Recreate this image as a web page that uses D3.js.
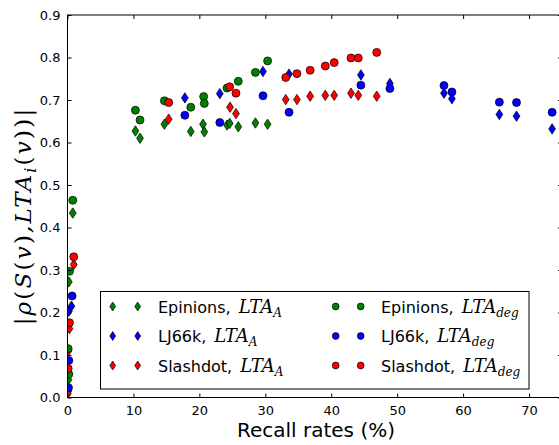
<!DOCTYPE html>
<html>
<head>
<meta charset="utf-8">
<script src="https://cdn.jsdelivr.net/npm/d3@7"></script>
<style>
  html, body { margin: 0; padding: 0; background: #fff; }
  svg { display: block; }
</style>
</head>
<body>
<svg id="chart" width="559" height="445"></svg>
<script>
// Recall rate (%) and |rho| for each dataset / LTA variant
const epinionsA_x = [0.15, 0.2, 0.8, 10.3, 11.0, 14.7, 18.7, 20.55, 20.75, 24.2, 24.6, 25.9, 28.5, 30.35];
const epinionsA_y = [0.042, 0.272, 0.434, 0.627, 0.610, 0.643, 0.626, 0.643, 0.625, 0.641, 0.645, 0.637, 0.646, 0.643];

const lj66kA_x = [0.1, 0.2, 0.6, 17.8, 23.1, 29.65, 33.6, 44.5, 48.9, 57.1, 58.3, 65.5, 68.1, 73.5];
const lj66kA_y = [0.015, 0.203, 0.215, 0.705, 0.715, 0.767, 0.761, 0.759, 0.739, 0.716, 0.703, 0.666, 0.662, 0.632];

const slashdotA_x = [0.05, 0.15, 0.3, 0.95, 15.35, 24.65, 25.55, 33.1, 34.8, 36.8, 39.1, 40.45, 43.0, 44.1, 46.9];
const slashdotA_y = [0.009, 0.110, 0.162, 0.313, 0.655, 0.683, 0.668, 0.701, 0.701, 0.709, 0.711, 0.711, 0.716, 0.711, 0.709];

const epinionsDeg_x = [0.2, 0.1, 0.3, 0.8, 10.3, 11.0, 14.7, 18.7, 20.65, 20.75, 24.2, 25.9, 28.5, 30.35];
const epinionsDeg_y = [0.055, 0.115, 0.297, 0.464, 0.676, 0.653, 0.698, 0.683, 0.708, 0.692, 0.728, 0.744, 0.765, 0.792];

const lj66kDeg_x = [0.15, 0.2, 0.7, 17.8, 23.1, 29.65, 33.6, 44.5, 48.9, 57.1, 58.3, 65.5, 68.1, 73.5];
const lj66kDeg_y = [0.023, 0.087, 0.239, 0.664, 0.647, 0.710, 0.671, 0.735, 0.727, 0.734, 0.719, 0.695, 0.694, 0.671];

const slashdotDeg_x = [0.1, 0.3, 0.95, 15.35, 24.6, 25.55, 33.1, 34.8, 36.8, 39.1, 40.45, 43.0, 44.1, 46.9];
const slashdotDeg_y = [0.068, 0.176, 0.331, 0.694, 0.731, 0.716, 0.753, 0.762, 0.770, 0.780, 0.788, 0.799, 0.799, 0.812];

const xTicks = [0, 10, 20, 30, 40, 50, 60, 70];
const yTicks = [0.0, 0.1, 0.2, 0.3, 0.4, 0.5, 0.6, 0.7, 0.8, 0.9];

const datasetNames = ["Epinions", "LJ66k", "Slashdot"];
const seriesColors = ["#008000", "#0000ff", "#ff0000"];

const series = [
  { name: datasetNames[0], sub: "A", shape: "diamond", color: seriesColors[0], xs: epinionsA_x, ys: epinionsA_y },
  { name: datasetNames[1], sub: "A", shape: "diamond", color: seriesColors[1], xs: lj66kA_x, ys: lj66kA_y },
  { name: datasetNames[2], sub: "A", shape: "diamond", color: seriesColors[2], xs: slashdotA_x, ys: slashdotA_y },
  { name: datasetNames[0], sub: "deg", shape: "circle", color: seriesColors[0], xs: epinionsDeg_x, ys: epinionsDeg_y },
  { name: datasetNames[1], sub: "deg", shape: "circle", color: seriesColors[1], xs: lj66kDeg_x, ys: lj66kDeg_y },
  { name: datasetNames[2], sub: "deg", shape: "circle", color: seriesColors[2], xs: slashdotDeg_x, ys: slashdotDeg_y }
];

const svg = d3.select("#chart");
const plotLeft = 67.5, plotRight = 562, plotTop = 15, plotBottom = 397.5;

const x = d3.scaleLinear().domain([0, 75]).range([plotLeft, plotRight]);
const y = d3.scaleLinear().domain([0, 0.9]).range([plotBottom, plotTop]);

const tickFont = "'DejaVu Sans', sans-serif";
const mathFont = "'DejaVu Serif', 'Liberation Serif', serif";

// clip region for the markers
svg.append("defs").append("clipPath").attr("id", "plotClip")
  .append("rect").attr("x", plotLeft).attr("y", plotTop)
  .attr("width", plotRight - plotLeft).attr("height", plotBottom - plotTop);

// marker path builders
const diamondPath = (hw, hh) => `M0,${-hh}L${hw},0L0,${hh}L${-hw},0Z`;

function drawMarker(g, shape, color, cx, cy, scale) {
  const s = scale || 1;
  if (shape === "circle") {
    g.append("circle").attr("cx", cx).attr("cy", cy).attr("r", 4 * s)
      .attr("fill", color).attr("stroke", "#000").attr("stroke-width", 0.7);
  } else {
    g.append("path").attr("d", diamondPath(3.4 * s, 5.2 * s))
      .attr("transform", `translate(${cx},${cy})`)
      .attr("fill", color).attr("stroke", "#000").attr("stroke-width", 0.7);
  }
}

// data markers
const plot = svg.append("g").attr("clip-path", "url(#plotClip)");
series.forEach(sr => {
  const g = plot.append("g");
  sr.xs.forEach((xv, i) => drawMarker(g, sr.shape, sr.color, x(xv), y(sr.ys[i])));
});

// axes: ticks pointing inward on all four sides
const axisBottom = d3.axisBottom(x).tickValues(xTicks).tickSizeInner(-4).tickSizeOuter(0).tickPadding(8).tickFormat(d3.format("d"));
const axisTop = d3.axisTop(x).tickValues(xTicks).tickSizeInner(-4).tickSizeOuter(0).tickFormat("");
const axisLeft = d3.axisLeft(y).tickValues(yTicks).tickSizeInner(-4).tickSizeOuter(0).tickPadding(7).tickFormat(d3.format(".1f"));
const axisRight = d3.axisRight(y).tickValues(yTicks).tickSizeInner(-4).tickSizeOuter(0).tickFormat("");

function styleAxis(g) {
  g.select(".domain").remove();
  g.selectAll(".tick line").attr("stroke", "#000").attr("stroke-width", 1);
  g.selectAll(".tick text").attr("fill", "#000").style("font-family", tickFont).style("font-size", "13px");
}

svg.append("g").attr("transform", `translate(0,${plotBottom})`).call(axisBottom).call(styleAxis);
svg.append("g").attr("transform", `translate(0,${plotTop})`).call(axisTop).call(styleAxis);
svg.append("g").attr("transform", `translate(${plotLeft},0)`).call(axisLeft).call(styleAxis);
svg.append("g").attr("transform", `translate(${plotRight},0)`).call(axisRight).call(styleAxis);

// frame
svg.append("rect").attr("x", plotLeft).attr("y", plotTop)
  .attr("width", plotRight - plotLeft).attr("height", plotBottom - plotTop)
  .attr("fill", "none").attr("stroke", "#000").attr("stroke-width", 1);

// x axis label
svg.append("text").attr("x", 316).attr("y", 437)
  .attr("text-anchor", "middle")
  .style("font-family", tickFont).style("font-size", "20px")
  .text("Recall rates (%)");

// y axis label: |rho(S(v), LTA_i(v))|
const yl = svg.append("text")
  .attr("transform", "translate(31,216) rotate(-90)")
  .attr("text-anchor", "middle")
  .style("font-family", mathFont).style("font-size", "23px")
  .style("letter-spacing", "2.2px");
const ylParts = [
  { t: "|", it: false }, { t: "ρ", it: true }, { t: "(", it: false }, { t: "S", it: true },
  { t: "(", it: false }, { t: "v", it: true }, { t: ")", it: false }, { t: ",", it: true },
  { t: "LTA", it: true }, { t: "i", it: true, sub: true }, { t: "(", it: false },
  { t: "v", it: true }, { t: ")", it: false }, { t: ")", it: false }, { t: "|", it: false }
];
let wasSub = false;
ylParts.forEach(p => {
  const ts = yl.append("tspan").text(p.t).style("font-style", p.it ? "italic" : "normal");
  if (p.sub) { ts.attr("dy", 5).style("font-size", "16px"); wasSub = true; }
  else if (wasSub) { ts.attr("dy", -5); wasSub = false; }
});

// legend
const legend = svg.append("g");
legend.append("rect").attr("x", 100.5).attr("y", 291.5).attr("width", 428.5).attr("height", 97.5)
  .attr("fill", "#fff").attr("stroke", "#000").attr("stroke-width", 1);

const rowY = [306.5, 336, 365.5];
const colMarkers = [[112.7, 137.7], [335.7, 360.7]];
const colText = [158, 381];
series.forEach((sr, i) => {
  const col = Math.floor(i / 3), row = i % 3;
  const cy = rowY[row];
  colMarkers[col].forEach(mx => drawMarker(legend, sr.shape, sr.color, mx, cy, 0.85));
  const t = legend.append("text").attr("x", colText[col]).attr("y", cy + 6)
    .style("font-family", tickFont).style("font-size", "16px");
  t.append("tspan").text(sr.name + ",");
  t.append("tspan").attr("dx", 8).style("font-family", mathFont).style("font-style", "italic")
    .style("font-size", "18px").text("LTA");
  t.append("tspan").attr("dy", 4).style("font-family", mathFont).style("font-style", "italic")
    .style("font-size", "12px").text(sr.sub);
});
</script>
</body>
</html>
